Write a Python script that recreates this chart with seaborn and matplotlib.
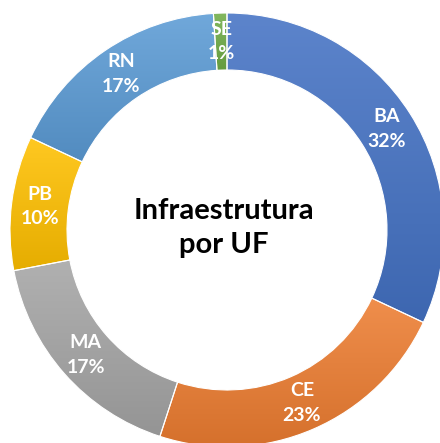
import numpy as np
import seaborn as sns
import matplotlib.pyplot as plt
from matplotlib.colors import LinearSegmentedColormap, to_rgb

# dados do gráfico
ufs = ['BA', 'CE', 'MA', 'PB', 'RN', 'SE']
valores = [32, 23, 17, 10, 17, 1]
cores = ['#4472C4', '#ED7D31', '#A5A5A5', '#FFC000', '#5B9BD5', '#70AD47']
titulo = 'Infraestrutura\npor UF'

sns.set_theme(style='white')
plt.rcParams['font.family'] = ['Lato', 'DejaVu Sans']


def clarear(c, f):
    r = np.array(to_rgb(c))
    return tuple(r + (1 - r) * f)


def escurecer(c, f):
    return tuple(np.array(to_rgb(c)) * (1 - f))


fig = plt.figure(figsize=(4.4, 4.43), dpi=100)
ax = fig.add_axes([0, 0, 1, 1])

centro = (227, 213)
raio = 217
largura = 57

wedges, _ = ax.pie(valores, startangle=90, counterclock=False, center=centro,
                   radius=raio, frame=True,
                   wedgeprops=dict(width=largura, edgecolor='white', linewidth=0.8))
ax.set_xlim(0, 440)
ax.set_ylim(0, 443)
ax.set_aspect('equal')
ax.axis('off')

# degradê vertical em cada fatia (claro em cima, escuro embaixo)
grad = np.linspace(1, 0, 256).reshape(-1, 1)
for w, c in zip(wedges, cores):
    bb = w.get_path().get_extents()
    cmap = LinearSegmentedColormap.from_list('g', [escurecer(c, 0.1), clarear(c, 0.13)])
    im = ax.imshow(grad, extent=(bb.x0, bb.x1, bb.y0, bb.y1),
                   cmap=cmap, aspect='auto', origin='upper', zorder=1)
    im.set_clip_path(w)
    w.set_facecolor('none')
    w.set_zorder(2)
ax.set_xlim(0, 440)
ax.set_ylim(0, 443)

# rótulos no meio do anel
total = sum(valores)
acum = 0
for uf, v in zip(ufs, valores):
    meio = 90 - (acum + v / 2) / total * 360
    acum += v
    r = raio - largura / 2
    x = centro[0] + r * np.cos(np.radians(meio))
    y = centro[1] + r * np.sin(np.radians(meio))
    ax.text(x, y, f'{uf}\n{v}%', ha='center', va='center', color='white',
            fontsize=14, fontweight='bold', linespacing=1.55, zorder=3)

ax.text(centro[0] - 3, centro[1] + 2, titulo, ha='center', va='center',
        fontsize=21, fontweight='bold', color='black', linespacing=1.4, zorder=3)

fig.savefig('out.png', dpi=100)
